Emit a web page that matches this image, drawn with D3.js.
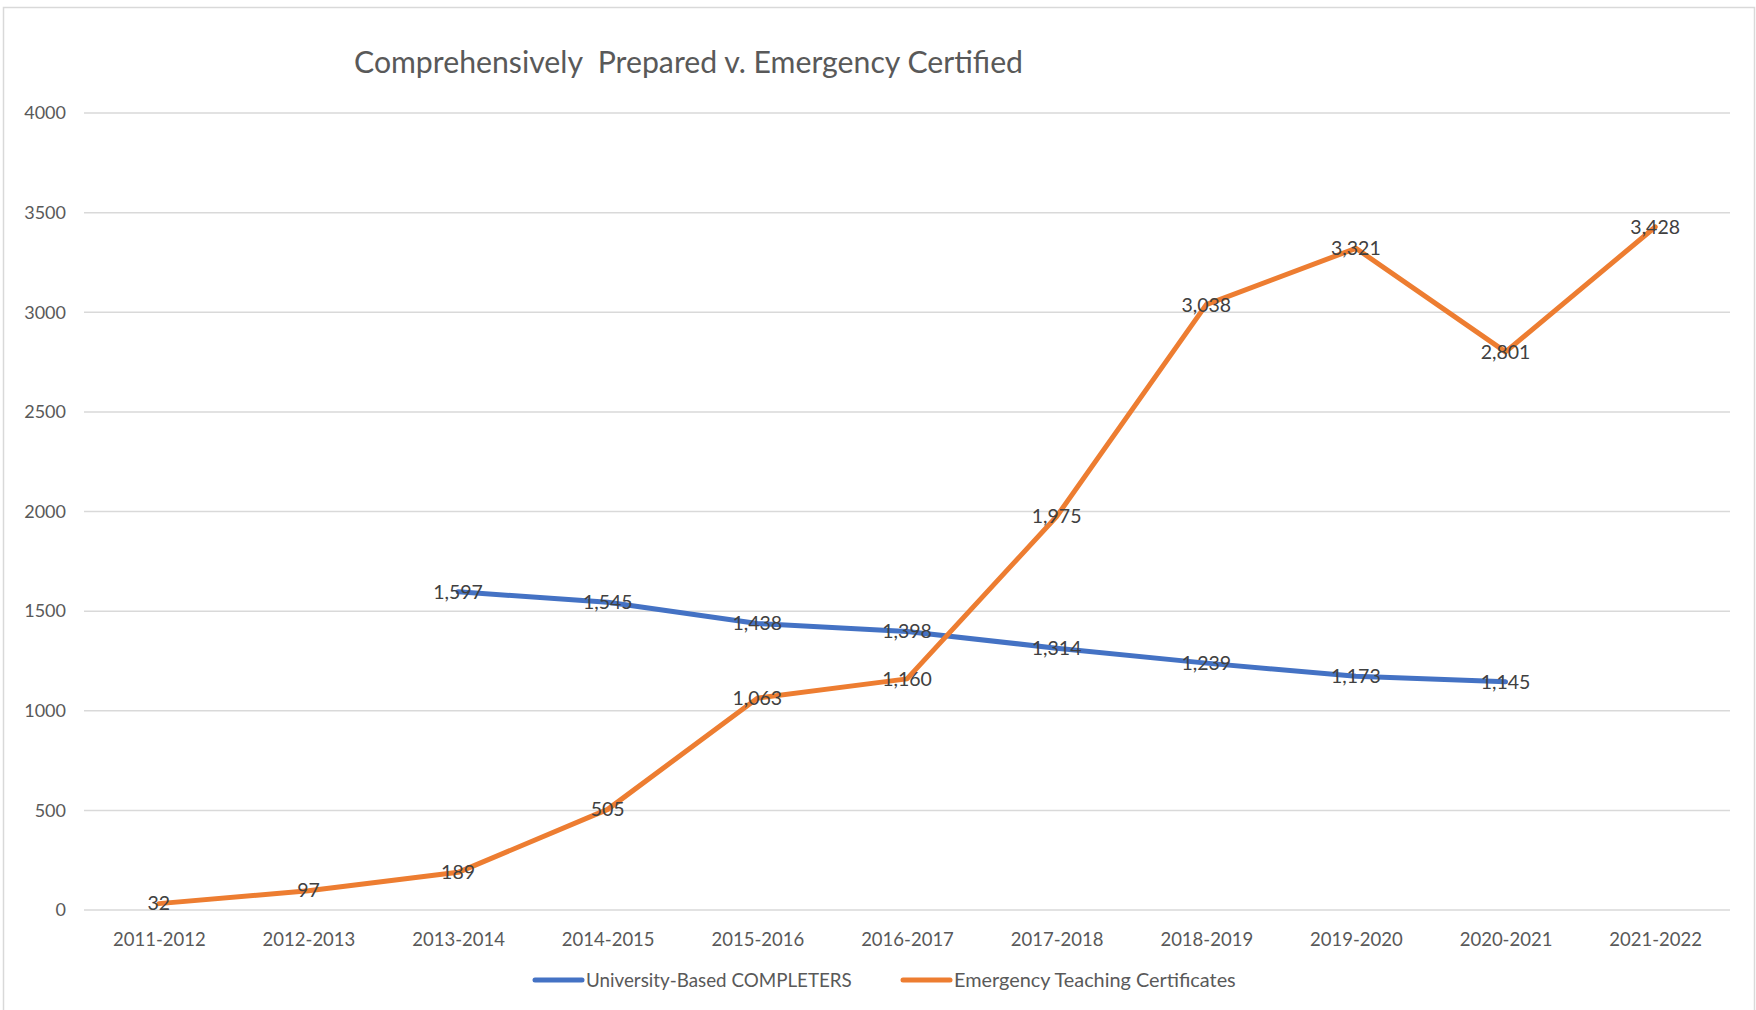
<!DOCTYPE html>
<html><head><meta charset="utf-8">
<script src="https://cdn.jsdelivr.net/npm/d3@7"></script>
<style>
html,body{margin:0;padding:0;background:#fff;}
svg{display:block;font-family:Lato,"Open Sans",sans-serif;}
</style></head>
<body>
<script>
const categories = ["2011-2012","2012-2013","2013-2014","2014-2015","2015-2016","2016-2017","2017-2018","2018-2019","2019-2020","2020-2021","2021-2022"];
const universityCompleters = [null,null,1597,1545,1438,1398,1314,1239,1173,1145,null];
const emergencyCertificates = [32,97,189,505,1063,1160,1975,3038,3321,2801,3428];
const yTicks = [0,500,1000,1500,2000,2500,3000,3500,4000];
const seriesNames = ["University-Based COMPLETERS","Emergency Teaching Certificates"];
const titleText = "Comprehensively  Prepared v. Emergency Certified";

(function(){
const W = 1756, H = 1010;
const svg = d3.select("body").append("svg").attr("width", W).attr("height", H);

svg.append("rect").attr("x",3.5).attr("y",7.5).attr("width",W-5).attr("height",H+10)
  .attr("fill","#fff").attr("stroke","#d9d9d9").attr("stroke-width",1.5);

const pLeft = 84, pRight = 1730, pTop = 113, pBottom = 910;
const x = d3.scalePoint().domain(categories).range([pLeft, pRight]).padding(0.5);
const y = d3.scaleLinear().domain([0,4000]).range([pBottom, pTop]);

svg.append("g").selectAll("line").data(yTicks).join("line")
  .attr("x1",pLeft).attr("x2",pRight).attr("y1",d=>y(d)).attr("y2",d=>y(d))
  .attr("stroke","#d9d9d9").attr("stroke-width",1.5);

const yAxis = svg.append("g").attr("transform",`translate(${pLeft-18},0)`)
  .call(d3.axisLeft(y).tickValues(yTicks).tickSize(0).tickPadding(0).tickFormat(d3.format("d")));
yAxis.select(".domain").remove();
yAxis.selectAll("text").attr("fill","#595959").style("font-size","18px").style("font-family","Lato");

const xAxis = svg.append("g").attr("transform",`translate(0,${pBottom})`)
  .call(d3.axisBottom(x).tickSize(0).tickPadding(23));
xAxis.select(".domain").remove();
xAxis.selectAll("text").attr("fill","#595959").style("font-size","18.5px").style("font-family","Lato");

const title = svg.append("text").attr("x",354).attr("y",73).attr("fill","#595959")
  .style("font-size","27px").style("font-family","Lato").style("white-space","pre").attr("xml:space","preserve").text(titleText);
const tw = title.node().getComputedTextLength();
title.style("font-size", (27*669/tw).toFixed(2)+"px");

const colors = ["#4472C4","#ED7D31"];
const seriesData = [universityCompleters, emergencyCertificates];
const line = d3.line().defined(d=>d.v!=null).x(d=>x(d.c)).y(d=>y(d.v));

seriesData.forEach((vals,i)=>{
  const pts = categories.map((c,j)=>({c, v: vals[j]}));
  svg.append("path").datum(pts).attr("d",line).attr("fill","none")
    .attr("stroke",colors[i]).attr("stroke-width",5).attr("stroke-linejoin","round").attr("stroke-linecap","round");
});
seriesData.forEach((vals,i)=>{
  const pts = categories.map((c,j)=>({c, v: vals[j]})).filter(d=>d.v!=null);
  svg.append("g").selectAll("text").data(pts).join("text")
    .attr("x",d=>x(d.c)).attr("y",d=>y(d.v)).attr("dy","0.35em")
    .attr("text-anchor","middle").attr("fill","#404040")
    .style("font-size","19.5px").style("font-family","Lato")
    .text(d=>d3.format(",")(d.v));
});

const legendItems = [
  {name: seriesNames[0], color: colors[0], x0: 535, x1: 582, tx: 586, tw: 266},
  {name: seriesNames[1], color: colors[1], x0: 903, x1: 950, tx: 954, tw: 282}
];
const lg = svg.append("g");
legendItems.forEach(it=>{
  lg.append("line").attr("x1",it.x0).attr("x2",it.x1).attr("y1",980).attr("y2",980)
    .attr("stroke",it.color).attr("stroke-width",5).attr("stroke-linecap","round");
  const t = lg.append("text").attr("x",it.tx).attr("y",980).attr("dy","0.35em")
    .attr("fill","#595959").style("font-size","18.5px").style("font-family","Lato").text(it.name);
  const w = t.node().getComputedTextLength();
  t.style("font-size",(18.5*it.tw/w).toFixed(2)+"px");
});
})();
</script>
</body></html>
